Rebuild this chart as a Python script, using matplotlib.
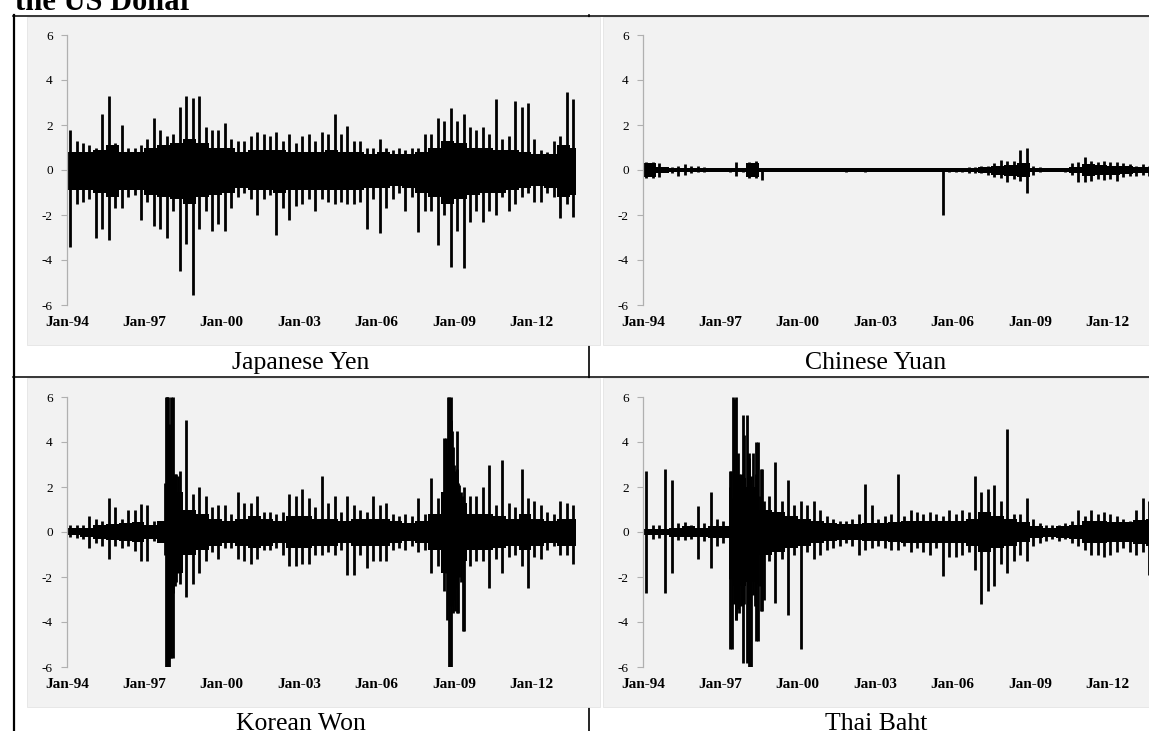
import numpy as np
import matplotlib
matplotlib.use("Agg")
import matplotlib.pyplot as plt
from matplotlib.lines import Line2D
from matplotlib.patches import Rectangle

W, H = 1149, 731

# quarterly extremes of the daily % change, 1994Q1 .. 2013Q3 (79 quarters)
yen_hi = [1.8, 1.3, 1.2, 1.1, 1.0, 2.5, 3.3, 1.2, 2.0, 1.0, 1.0, 1.1,
          1.4, 2.3, 1.8, 1.5, 1.6, 2.8, 3.3, 3.2, 3.3, 1.9, 1.8, 1.8,
          2.1, 1.4, 1.3, 1.3, 1.5, 1.7, 1.6, 1.5, 1.7, 1.3, 1.6, 1.2,
          1.5, 1.6, 1.3, 1.7, 1.6, 2.5, 1.6, 1.95, 1.3, 1.3, 1.0, 1.0,
          1.4, 1.0, 0.9, 1.0, 0.9, 1.0, 1.0, 1.6, 1.6, 2.3, 2.2, 2.75,
          2.2, 2.5, 1.9, 1.8, 1.9, 1.6, 3.15, 1.4, 1.5, 3.05, 2.8, 3.0,
          1.4, 0.9, 0.8, 1.3, 1.5, 3.45, 3.15]
yen_lo = [-3.4, -1.5, -1.4, -1.3, -3.0, -2.6, -3.1, -1.7, -1.7, -1.2, -1.1, -2.2,
          -1.4, -2.5, -2.6, -3.0, -1.8, -4.5, -3.3, -5.55, -2.6, -1.8, -2.7, -2.4,
          -2.7, -1.7, -1.2, -1.0, -1.3, -2.0, -1.3, -1.1, -2.9, -1.7, -2.2, -1.6,
          -1.5, -1.3, -1.8, -1.3, -1.4, -1.5, -1.4, -1.5, -1.5, -1.4, -2.6, -1.3,
          -2.8, -1.7, -1.3, -1.0, -1.8, -1.2, -2.75, -1.8, -1.8, -3.35, -2.0, -4.3,
          -2.7, -4.35, -2.3, -1.8, -2.3, -1.8, -2.0, -1.2, -1.8, -1.5, -1.2, -1.0,
          -1.4, -1.4, -1.0, -1.2, -2.15, -1.5, -2.1]

cny_hi = [0.35, 0.35, 0.3, 0.1, 0.15, 0.2, 0.25, 0.2, 0.2, 0.15, 0.05, 0.1,
          0.05, 0.1, 0.35, 0.1, 0.35, 0.4, 0.05, 0.05, 0.02, 0.05, 0.02, 0.02,
          0.02, 0.02, 0.02, 0.02, 0.02, 0.02, 0.02, 0.08, 0.05, 0.08, 0.1, 0.05,
          0.06, 0.02, 0.02, 0.02, 0.02, 0.02, 0.02, 0.02, 0.02, 0.02, 0.05, 0.08,
          0.1, 0.1, 0.15, 0.15, 0.2, 0.2, 0.3, 0.45, 0.4, 0.4, 0.9, 1.0,
          0.2, 0.15, 0.05, 0.05, 0.05, 0.1, 0.3, 0.35, 0.6, 0.4, 0.35, 0.4,
          0.35, 0.35, 0.3, 0.25, 0.2, 0.25, 0.2]
cny_lo = [-0.35, -0.35, -0.3, -0.1, -0.15, -0.25, -0.2, -0.15, -0.1, -0.1, -0.05, -0.05,
          -0.05, -0.1, -0.25, -0.1, -0.35, -0.35, -0.45, -0.05, -0.02, -0.03, -0.02, -0.02,
          -0.02, -0.02, -0.02, -0.02, -0.02, -0.02, -0.02, -0.08, -0.05, -0.06, -0.08, -0.05,
          -0.06, -0.02, -0.02, -0.02, -0.02, -0.02, -0.02, -0.02, -0.02, -0.02, -2.0, -0.08,
          -0.1, -0.1, -0.12, -0.12, -0.15, -0.2, -0.3, -0.35, -0.55, -0.4, -0.5, -1.0,
          -0.2, -0.1, -0.05, -0.05, -0.05, -0.1, -0.2, -0.55, -0.55, -0.5, -0.4, -0.45,
          -0.4, -0.5, -0.3, -0.25, -0.25, -0.2, -0.25]

krw_hi = [0.3, 0.3, 0.3, 0.7, 0.6, 0.5, 1.5, 1.1, 0.6, 1.0, 1.0, 1.25,
          1.2, 0.5, 0.5, 6.0, 6.0, 2.7, 5.0, 1.7, 2.0, 1.6, 1.1, 1.2,
          1.2, 0.8, 1.8, 1.3, 1.3, 1.6, 0.9, 0.9, 0.8, 0.9, 1.7, 1.6,
          1.9, 1.5, 1.1, 2.5, 1.3, 1.6, 0.9, 1.6, 1.2, 1.0, 0.9, 1.6,
          1.2, 1.3, 0.8, 0.7, 0.8, 0.7, 1.5, 0.8, 2.4, 1.5, 4.2, 6.0,
          4.5, 2.0, 1.6, 1.6, 2.0, 3.0, 1.2, 3.2, 1.3, 1.1, 2.8, 1.5,
          1.4, 1.2, 0.9, 0.8, 1.4, 1.3, 1.2]
krw_lo = [-0.2, -0.25, -0.3, -0.7, -0.5, -0.6, -1.2, -0.6, -0.7, -0.6, -0.85, -1.3,
          -1.3, -0.4, -0.4, -6.0, -5.6, -2.3, -2.9, -2.3, -1.8, -1.3, -0.9, -1.2,
          -0.7, -0.7, -1.2, -1.3, -1.4, -1.2, -0.8, -0.8, -0.7, -1.0, -1.5, -1.5,
          -1.4, -1.4, -1.0, -1.0, -0.9, -1.0, -0.8, -1.9, -1.9, -1.0, -1.6, -1.3,
          -1.3, -1.3, -0.8, -0.7, -0.8, -0.6, -0.9, -0.8, -1.8, -1.5, -2.6, -6.0,
          -3.6, -4.4, -1.5, -1.3, -1.3, -2.5, -1.2, -1.8, -1.1, -1.0, -1.5, -2.5,
          -1.1, -1.2, -0.8, -0.6, -1.0, -1.0, -1.4]

thb_hi = [2.7, 0.3, 0.3, 2.8, 2.3, 0.4, 0.45, 0.3, 1.15, 0.4, 1.8, 0.6,
          0.5, 2.7, 6.0, 5.2, 3.5, 4.0, 2.8, 1.6, 3.1, 1.4, 2.3, 1.2,
          1.4, 1.2, 1.4, 1.0, 0.7, 0.6, 0.5, 0.5, 0.6, 0.8, 2.15, 1.2,
          0.6, 0.7, 0.8, 2.6, 0.7, 1.0, 0.9, 0.8, 0.9, 0.8, 0.7, 1.0,
          0.8, 1.0, 0.9, 2.5, 1.8, 1.9, 2.1, 1.4, 4.6, 0.8, 0.8, 1.5,
          0.6, 0.4, 0.3, 0.3, 0.3, 0.4, 0.5, 1.0, 0.7, 1.0, 0.8, 0.9,
          0.8, 0.7, 0.6, 0.5, 1.0, 1.5, 1.4]
thb_lo = [-2.7, -0.3, -0.25, -2.7, -1.8, -0.35, -0.35, -0.3, -1.2, -0.4, -1.6, -0.6,
          -0.5, -5.2, -3.9, -5.8, -6.0, -4.85, -3.5, -1.3, -3.15, -1.2, -3.7, -1.0,
          -5.2, -0.9, -1.2, -1.0, -0.8, -0.7, -0.6, -0.5, -0.6, -1.0, -0.8, -0.7,
          -0.6, -0.7, -0.8, -0.8, -0.6, -0.9, -0.7, -0.9, -1.0, -0.7, -1.95, -1.1,
          -1.1, -1.0, -0.9, -1.7, -3.2, -2.6, -2.4, -1.4, -1.8, -1.3, -1.0, -1.3,
          -0.6, -0.5, -0.4, -0.3, -0.4, -0.3, -0.5, -0.6, -0.8, -1.0, -1.0, -1.1,
          -1.0, -0.9, -0.7, -0.9, -1.0, -0.9, -1.9]

# dense core of the series, half-years 1994H1 .. 2013H2 (40 values)
yen_band_hi = [0.8, 0.8, 0.9, 1.1, 0.8, 0.8, 1.0, 1.1, 1.2, 1.4, 1.2, 1.0, 1.0, 0.8,
               0.9, 0.9, 0.9, 0.8, 0.8, 0.8, 0.9, 0.8, 0.8, 0.7, 0.8, 0.7, 0.7, 0.8,
               1.0, 1.3, 1.2, 1.0, 1.0, 0.9, 0.9, 0.8, 0.7, 0.7, 1.1, 1.0]
yen_band_lo = [-0.9, -0.9, -1.0, -1.2, -0.9, -0.9, -1.1, -1.2, -1.3, -1.5, -1.2, -1.1, -1.0, -0.8,
               -0.9, -0.9, -1.0, -0.9, -0.9, -0.9, -0.9, -0.9, -0.9, -0.8, -0.8, -0.7, -0.8, -1.0,
               -1.2, -1.5, -1.3, -1.1, -1.0, -1.0, -0.9, -0.8, -0.7, -0.8, -1.2, -1.1]
cny_band_hi = [0.33, 0.15, 0.1, 0.1, 0.08, 0.07, 0.07, 0.08, 0.33, 0.07, 0.07, 0.07, 0.07, 0.07,
               0.07, 0.07, 0.08, 0.07, 0.07, 0.07, 0.07, 0.07, 0.07, 0.08, 0.08, 0.09, 0.12, 0.2,
               0.22, 0.3, 0.08, 0.07, 0.07, 0.15, 0.25, 0.22, 0.2, 0.16, 0.13, 0.13]
cny_band_lo = [-0.33, -0.15, -0.1, -0.1, -0.07, -0.07, -0.07, -0.08, -0.33, -0.07, -0.07, -0.07, -0.07, -0.07,
               -0.07, -0.07, -0.08, -0.07, -0.07, -0.07, -0.07, -0.07, -0.07, -0.08, -0.08, -0.09, -0.12, -0.2,
               -0.25, -0.3, -0.08, -0.07, -0.07, -0.15, -0.25, -0.22, -0.2, -0.16, -0.13, -0.13]
krw_band_hi = [0.2, 0.2, 0.3, 0.35, 0.4, 0.45, 0.3, 0.5, 1.8, 1.0, 0.8, 0.6, 0.5, 0.6,
               0.7, 0.6, 0.5, 0.7, 0.7, 0.6, 0.6, 0.5, 0.6, 0.6, 0.6, 0.5, 0.4, 0.5,
               0.8, 1.8, 1.3, 0.8, 0.8, 0.7, 0.6, 0.8, 0.6, 0.5, 0.6, 0.6]
krw_band_lo = [-0.15, -0.2, -0.3, -0.35, -0.4, -0.45, -0.3, -0.5, -1.8, -1.0, -0.8, -0.6, -0.5, -0.6,
               -0.7, -0.6, -0.5, -0.7, -0.7, -0.6, -0.6, -0.5, -0.6, -0.6, -0.6, -0.5, -0.4, -0.5,
               -0.8, -1.8, -1.3, -0.8, -0.8, -0.7, -0.6, -0.8, -0.6, -0.5, -0.6, -0.6]
thb_band_hi = [0.15, 0.15, 0.2, 0.25, 0.2, 0.25, 0.25, 2.4, 2.0, 1.0, 0.9, 0.7, 0.6, 0.5,
               0.4, 0.35, 0.35, 0.4, 0.4, 0.45, 0.5, 0.5, 0.5, 0.5, 0.5, 0.6, 0.9, 0.7,
               0.6, 0.45, 0.25, 0.2, 0.25, 0.3, 0.5, 0.5, 0.45, 0.45, 0.55, 0.6]
thb_band_lo = [-0.15, -0.15, -0.2, -0.2, -0.2, -0.25, -0.25, -2.4, -2.2, -1.0, -0.9, -0.7, -0.6, -0.5,
               -0.4, -0.35, -0.35, -0.4, -0.4, -0.45, -0.5, -0.5, -0.5, -0.5, -0.5, -0.6, -0.9, -0.7,
               -0.6, -0.45, -0.25, -0.2, -0.25, -0.3, -0.5, -0.5, -0.45, -0.45, -0.55, -0.6]

# individual spikes in the crisis periods (decimal year, high, low)
krw_spike_t = [1997.80, 1997.84, 1997.88, 1997.92, 1997.96, 1998.00, 1998.04, 1998.09,
               1998.14, 1998.19, 1998.24, 1998.30,
               2008.68, 2008.72, 2008.76, 2008.80, 2008.84, 2008.88, 2008.92, 2008.96,
               2009.00, 2009.05, 2009.10, 2009.15, 2009.20, 2009.27, 2009.35]
krw_spike_hi = [2.2, 6.0, 6.0, 6.0, 4.8, 4.3, 6.0, 2.4, 2.5, 2.6, 2.6, 2.5,
                4.2, 3.5, 6.0, 6.0, 5.1, 5.0, 4.5, 3.8, 3.0, 2.7, 2.8, 2.2, 2.1, 1.8, 1.6]
krw_spike_lo = [-1.0, -6.0, -6.0, -5.5, -6.0, -5.6, -5.6, -2.7, -2.3, -2.4, -2.2, -1.8,
                -1.8, -3.9, -3.3, -6.0, -3.2, -3.3, -3.1, -3.6, -3.0, -3.5, -2.5, -3.6, -2.0, -2.2, -4.4]

thb_spike_t = [1997.36, 1997.42, 1997.45, 1997.50, 1997.54, 1997.58, 1997.62, 1997.69,
               1997.73, 1997.80, 1997.86, 1997.93, 1998.02, 1998.07, 1998.12, 1998.20,
               1998.26, 1998.33, 1998.39, 1998.44, 1998.52, 1998.59, 1998.69]
thb_spike_hi = [2.0, 2.7, 1.5, 6.0, 5.9, 2.6, 2.6, 3.5, 2.6, 2.6, 2.6, 4.3, 5.2, 2.6, 3.3,
                2.5, 3.5, 2.0, 2.6, 4.0, 1.6, 2.8, 1.4]
thb_spike_lo = [-2.1, -1.8, -5.2, -2.0, -3.2, -3.0, -3.9, -3.4, -3.6, -3.3, -3.2, -3.2, -5.8,
                -3.3, -3.0, -6.0, -2.8, -3.3, -2.3, -4.85, -2.4, -3.5, -3.0]

x_tick_years = [1994, 1997, 2000, 2003, 2006, 2009, 2012]
x_tick_labels = ["Jan-94", "Jan-97", "Jan-00", "Jan-03", "Jan-06", "Jan-09", "Jan-12"]
y_ticks = [6, 4, 2, 0, -2, -4, -6]
y_tick_labels = ["6", "4", "2", "0", "-2", "-4", "-6"]

quarter_mid = np.arange(1994, 2013.6, 0.25) + 0.12
half_edges = np.append(np.arange(1994, 2013.6, 0.5), 2013.73)


def fx(px):
    return px / W


def fy(py):
    return 1 - py / H


def hline(fig, x0, x1, y, lw=1.1, z=3):
    fig.add_artist(Line2D([fx(x0), fx(x1)], [fy(y), fy(y)], color="black", lw=lw, zorder=z))


def vline(fig, x, y0, y1, lw=1.1, z=3):
    fig.add_artist(Line2D([fx(x), fx(x)], [fy(y0), fy(y1)], color="black", lw=lw, zorder=z))


def chart_box(fig, x0, y0, x1, y1):
    fig.add_artist(Rectangle((fx(x0), fy(y1)), fx(x1) - fx(x0), fy(y0) - fy(y1),
                             transform=fig.transFigure, facecolor="#f2f2f2",
                             edgecolor="#e4e4e4", lw=0.6, zorder=-1))


def draw_panel(fig, left, top, hi, lo, band_hi, band_lo, spike_t=None, spike_hi=None, spike_lo=None):
    ax = fig.add_axes([fx(left), fy(top + 270), 516 / W, 270 / H])
    ax.set_facecolor("none")
    ax.stairs(band_hi, half_edges, baseline=band_lo, fill=True, color="black", lw=0)
    ax.vlines(quarter_mid, lo, hi, color="black", lw=2.0)
    if spike_t is not None:
        ax.vlines(spike_t, spike_lo, spike_hi, color="black", lw=2.0)
    ax.set_xlim(1994, 2014)
    ax.set_ylim(-6, 6)
    for s in ["top", "right", "bottom"]:
        ax.spines[s].set_visible(False)
    ax.spines["left"].set_color("#b0b0b0")
    ax.spines["left"].set_linewidth(0.9)
    ax.set_yticks(y_ticks)
    ax.set_yticklabels(y_tick_labels)
    ax.set_xticks(x_tick_years)
    ax.set_xticklabels(x_tick_labels, fontweight="bold")
    ax.tick_params(axis="y", length=4.3, width=0.8, color="#b0b0b0", pad=6, labelsize=9.5)
    ax.tick_params(axis="x", length=0, pad=8, labelsize=11)
    return ax


def main():
    plt.rcParams["font.family"] = ["Liberation Serif", "DejaVu Serif"]
    fig = plt.figure(figsize=(W / 100, H / 100), dpi=100)
    fig.patch.set_facecolor("white")

    # table rules behind the charts
    vline(fig, 589, 15, H, lw=1.2, z=-2)
    vline(fig, 13.5, 15, H, lw=1.6)
    hline(fig, 13, W, 15.5)
    hline(fig, 13, W, 376.5)

    chart_box(fig, 27, 17, 600, 345)
    chart_box(fig, 603, 17, W + 5, 345)
    chart_box(fig, 27, 378, 600, 707)
    chart_box(fig, 603, 378, W + 5, 707)

    draw_panel(fig, 67, 35, yen_hi, yen_lo, yen_band_hi, yen_band_lo)
    draw_panel(fig, 643, 35, cny_hi, cny_lo, cny_band_hi, cny_band_lo)
    draw_panel(fig, 67, 397, krw_hi, krw_lo, krw_band_hi, krw_band_lo,
               krw_spike_t, krw_spike_hi, krw_spike_lo)
    draw_panel(fig, 643, 397, thb_hi, thb_lo, thb_band_hi, thb_band_lo,
               thb_spike_t, thb_spike_hi, thb_spike_lo)

    fig.text(fx(15), fy(10), "the US Dollar", fontsize=22, fontweight="bold", va="baseline")
    fig.text(fx(301), fy(369), "Japanese Yen", fontsize=18.5, ha="center", va="baseline")
    fig.text(fx(876), fy(369), "Chinese Yuan", fontsize=18.5, ha="center", va="baseline")
    fig.text(fx(301), fy(730), "Korean Won", fontsize=18.5, ha="center", va="baseline")
    fig.text(fx(876), fy(730), "Thai Baht", fontsize=18.5, ha="center", va="baseline")

    fig.savefig("out.png", dpi=100)


if __name__ == "__main__":
    main()
